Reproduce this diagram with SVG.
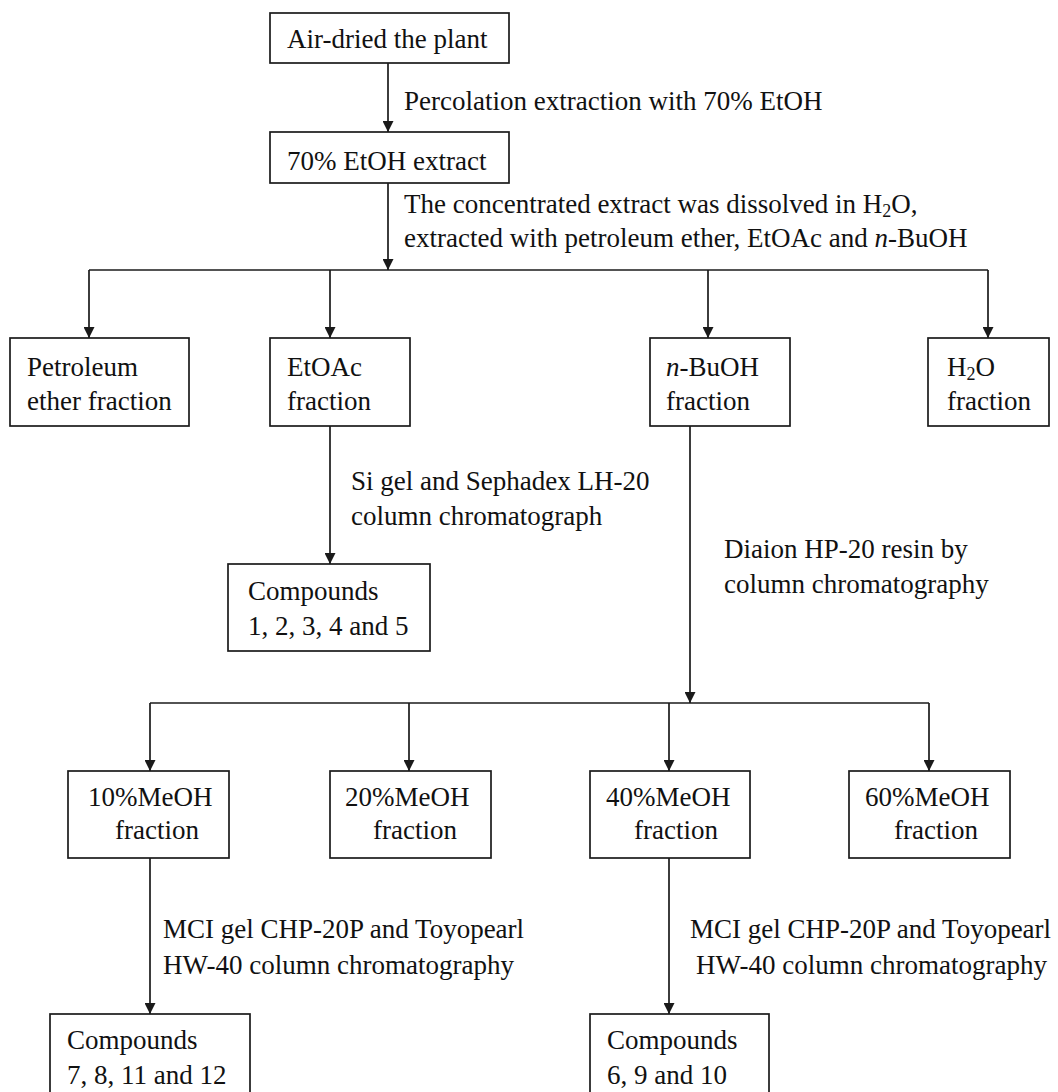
<svg xmlns="http://www.w3.org/2000/svg" width="1058" height="1092" viewBox="0 0 1058 1092">
<defs>
<style>
.box{fill:#fff;stroke:#1a1a1a;stroke-width:1.7}
.ln{fill:none;stroke:#1a1a1a;stroke-width:1.7}
.arr{fill:none;stroke:#1a1a1a;stroke-width:1.7;marker-end:url(#ah)}
text{font-family:"Liberation Serif","Times New Roman",serif;font-size:27px;fill:#111}
.it{font-style:italic}
.sub{font-size:18px}
</style>
<marker id="ah" viewBox="0 0 10 10" refX="10" refY="5" markerWidth="11" markerHeight="11" markerUnits="userSpaceOnUse" orient="auto">
<path d="M0,0 L10,5 L0,10 z" fill="#1a1a1a"/>
</marker>
</defs>
<rect width="1058" height="1092" fill="#fff"/>

<g id="connectors">
<path class="arr" d="M388,63 V132"/>
<path class="arr" d="M388,183 V270"/>
<path class="ln" d="M89,270 H988"/>
<path class="arr" d="M89,270 V338"/>
<path class="arr" d="M330,270 V338"/>
<path class="arr" d="M708,270 V338"/>
<path class="arr" d="M988,270 V338"/>
<path class="arr" d="M330,426 V564"/>
<path class="arr" d="M690,426 V703"/>
<path class="ln" d="M150,703 H929"/>
<path class="arr" d="M150,703 V771"/>
<path class="arr" d="M409,703 V771"/>
<path class="arr" d="M669,703 V771"/>
<path class="arr" d="M929,703 V771"/>
<path class="arr" d="M150,858 V1014"/>
<path class="arr" d="M669,858 V1014"/>
</g>

<g id="labels">
<text x="404" y="110">Percolation extraction with 70% EtOH</text>
<text x="404" y="213">The concentrated extract was dissolved in H<tspan class="sub" dy="4">2</tspan><tspan dy="-4">O,</tspan></text>
<text x="404" y="247">extracted with petroleum ether, EtOAc and <tspan class="it">n</tspan>-BuOH</text>
<text x="351" y="490">Si gel and Sephadex LH-20</text>
<text x="351" y="525">column chromatograph</text>
<text x="724" y="558">Diaion HP-20 resin by</text>
<text x="724" y="593">column chromatography</text>
<text x="163" y="938">MCI gel CHP-20P and Toyopearl</text>
<text x="163" y="974">HW-40 column chromatography</text>
<text x="690" y="938">MCI gel CHP-20P and Toyopearl</text>
<text x="696" y="974">HW-40 column chromatography</text>
</g>

<g id="n-plant">
<rect class="box" x="270" y="13" width="239" height="50"/>
<text x="287" y="48">Air-dried the plant</text>
</g>
<g id="n-extract">
<rect class="box" x="270" y="132" width="239" height="51"/>
<text x="287" y="170">70% EtOH extract</text>
</g>
<g id="n-petroleum">
<rect class="box" x="10" y="338" width="179" height="88"/>
<text x="27" y="376">Petroleum</text>
<text x="27" y="410">ether fraction</text>
</g>
<g id="n-etoac">
<rect class="box" x="270" y="338" width="140" height="88"/>
<text x="287" y="376">EtOAc</text>
<text x="287" y="410">fraction</text>
</g>
<g id="n-buoh">
<rect class="box" x="650" y="338" width="140" height="88"/>
<text x="666" y="376"><tspan class="it">n</tspan>-BuOH</text>
<text x="666" y="410">fraction</text>
</g>
<g id="n-h2o">
<rect class="box" x="928" y="338" width="121" height="88"/>
<text x="947" y="376">H<tspan class="sub" dy="4">2</tspan><tspan dy="-4">O</tspan></text>
<text x="947" y="410">fraction</text>
</g>
<g id="n-comp15">
<rect class="box" x="228" y="564" width="202" height="87"/>
<text x="248" y="600">Compounds</text>
<text x="248" y="635">1, 2, 3, 4 and 5</text>
</g>
<g id="n-meoh10">
<rect class="box" x="68" y="771" width="161" height="87"/>
<text x="88" y="806">10%MeOH</text>
<text x="115" y="839">fraction</text>
</g>
<g id="n-meoh20">
<rect class="box" x="330" y="771" width="161" height="87"/>
<text x="345" y="806">20%MeOH</text>
<text x="373" y="839">fraction</text>
</g>
<g id="n-meoh40">
<rect class="box" x="590" y="771" width="160" height="87"/>
<text x="606" y="806">40%MeOH</text>
<text x="634" y="839">fraction</text>
</g>
<g id="n-meoh60">
<rect class="box" x="849" y="771" width="161" height="87"/>
<text x="865" y="806">60%MeOH</text>
<text x="894" y="839">fraction</text>
</g>
<g id="n-comp7">
<rect class="box" x="50" y="1014" width="200" height="100"/>
<text x="67" y="1049">Compounds</text>
<text x="67" y="1084">7, 8, 11 and 12</text>
</g>
<g id="n-comp6">
<rect class="box" x="590" y="1014" width="179" height="100"/>
<text x="607" y="1049">Compounds</text>
<text x="607" y="1084">6, 9 and 10</text>
</g>
</svg>
